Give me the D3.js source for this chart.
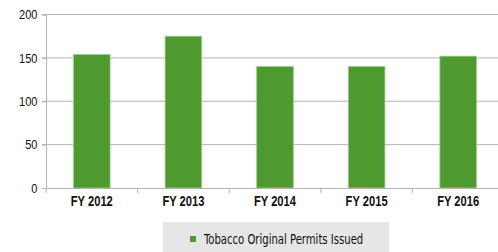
<!DOCTYPE html>
<html>
<head>
<meta charset="utf-8">
<script src="https://cdn.jsdelivr.net/npm/d3@7"></script>
<style>
  body { margin: 0; background: #fff; }
  svg { display: block; font-family: "Liberation Sans Narrow", "DejaVu Sans Condensed", "DejaVu Sans", sans-serif; font-stretch: condensed; }
</style>
</head>
<body>
<div id="chart"></div>
<script>
var years = ["FY 2012", "FY 2013", "FY 2014", "FY 2015", "FY 2016"];
var permits = [154, 175, 140, 140, 152];
var yTicks = [0, 50, 100, 150, 200];
var seriesName = "Tobacco Original Permits Issued";

var W = 498, H = 252;
var plotLeft = 46, plotTop = 14.5, plotBottom = 188, step = 91.6;

var svg = d3.select("#chart").append("svg")
    .attr("width", W)
    .attr("height", H);

// narrow the type horizontally, keeping the anchor point in place
function squeeze(sel, sx) {
  sel.each(function() {
    var t = d3.select(this);
    var x0 = +t.attr("x") || 0;
    t.attr("x", x0 / sx).attr("transform", "scale(" + sx + ",1)");
  });
}

var x = d3.scaleBand()
    .domain(years)
    .range([plotLeft, plotLeft + step * years.length])
    .paddingInner(0.6)
    .paddingOuter(0.3);

var y = d3.scaleLinear()
    .domain([0, 200])
    .range([plotBottom, plotTop]);

// gridlines
svg.append("g")
  .selectAll("line")
  .data(yTicks.filter(function(d) { return d > 0; }))
  .enter().append("line")
    .attr("x1", plotLeft - 4)
    .attr("x2", W)
    .attr("y1", function(d) { return y(d); })
    .attr("y2", function(d) { return y(d); })
    .attr("stroke", "#b3b3b3")
    .attr("stroke-width", 1);

// y axis
var yAxis = svg.append("g")
    .attr("transform", "translate(" + plotLeft + ",0)")
    .call(d3.axisLeft(y).tickValues(yTicks).tickSize(4).tickPadding(4.5));
yAxis.select(".domain").attr("stroke", "#b3b3b3");
yAxis.selectAll(".tick line").attr("stroke", "#b3b3b3");
yAxis.selectAll("text")
    .attr("fill", "#111")
    .style("font-size", "13px")
    .call(squeeze, 0.85);

// bars
svg.append("g")
  .selectAll("rect")
  .data(permits)
  .enter().append("rect")
    .attr("x", function(d, i) { return x(years[i]); })
    .attr("y", function(d) { return y(d); })
    .attr("width", x.bandwidth())
    .attr("height", function(d) { return plotBottom - y(d); })
    .attr("fill", "#4f9a2e")
    .attr("stroke", "#9fd08c")
    .attr("stroke-width", 0.8);

// x axis
var xAxis = svg.append("g")
    .attr("transform", "translate(0," + plotBottom + ")")
    .call(d3.axisBottom(x).tickSize(0).tickPadding(8));
xAxis.select(".domain").attr("stroke", "#b3b3b3");
xAxis.selectAll("text")
    .attr("fill", "#111")
    .style("font-size", "14.5px")
    .style("font-weight", "bold")
    .call(squeeze, 0.77);

// boundary ticks between categories
svg.append("g")
  .selectAll("line")
  .data(d3.range(years.length + 1))
  .enter().append("line")
    .attr("x1", function(i) { return plotLeft + i * x.step(); })
    .attr("x2", function(i) { return plotLeft + i * x.step(); })
    .attr("y1", plotBottom)
    .attr("y2", plotBottom + 5)
    .attr("stroke", "#b3b3b3");

// legend
var legend = svg.append("g").attr("transform", "translate(163,222)");
legend.append("rect")
    .attr("width", 226)
    .attr("height", 32)
    .attr("fill", "#e6e6e7");
legend.append("rect")
    .attr("x", 27)
    .attr("y", 14)
    .attr("width", 6)
    .attr("height", 6)
    .attr("fill", "#4f9a2e");
legend.append("text")
    .attr("x", 41)
    .attr("y", 22)
    .attr("fill", "#111")
    .style("font-size", "13.5px")
    .text(seriesName)
    .call(squeeze, 0.83);
</script>
</body>
</html>
